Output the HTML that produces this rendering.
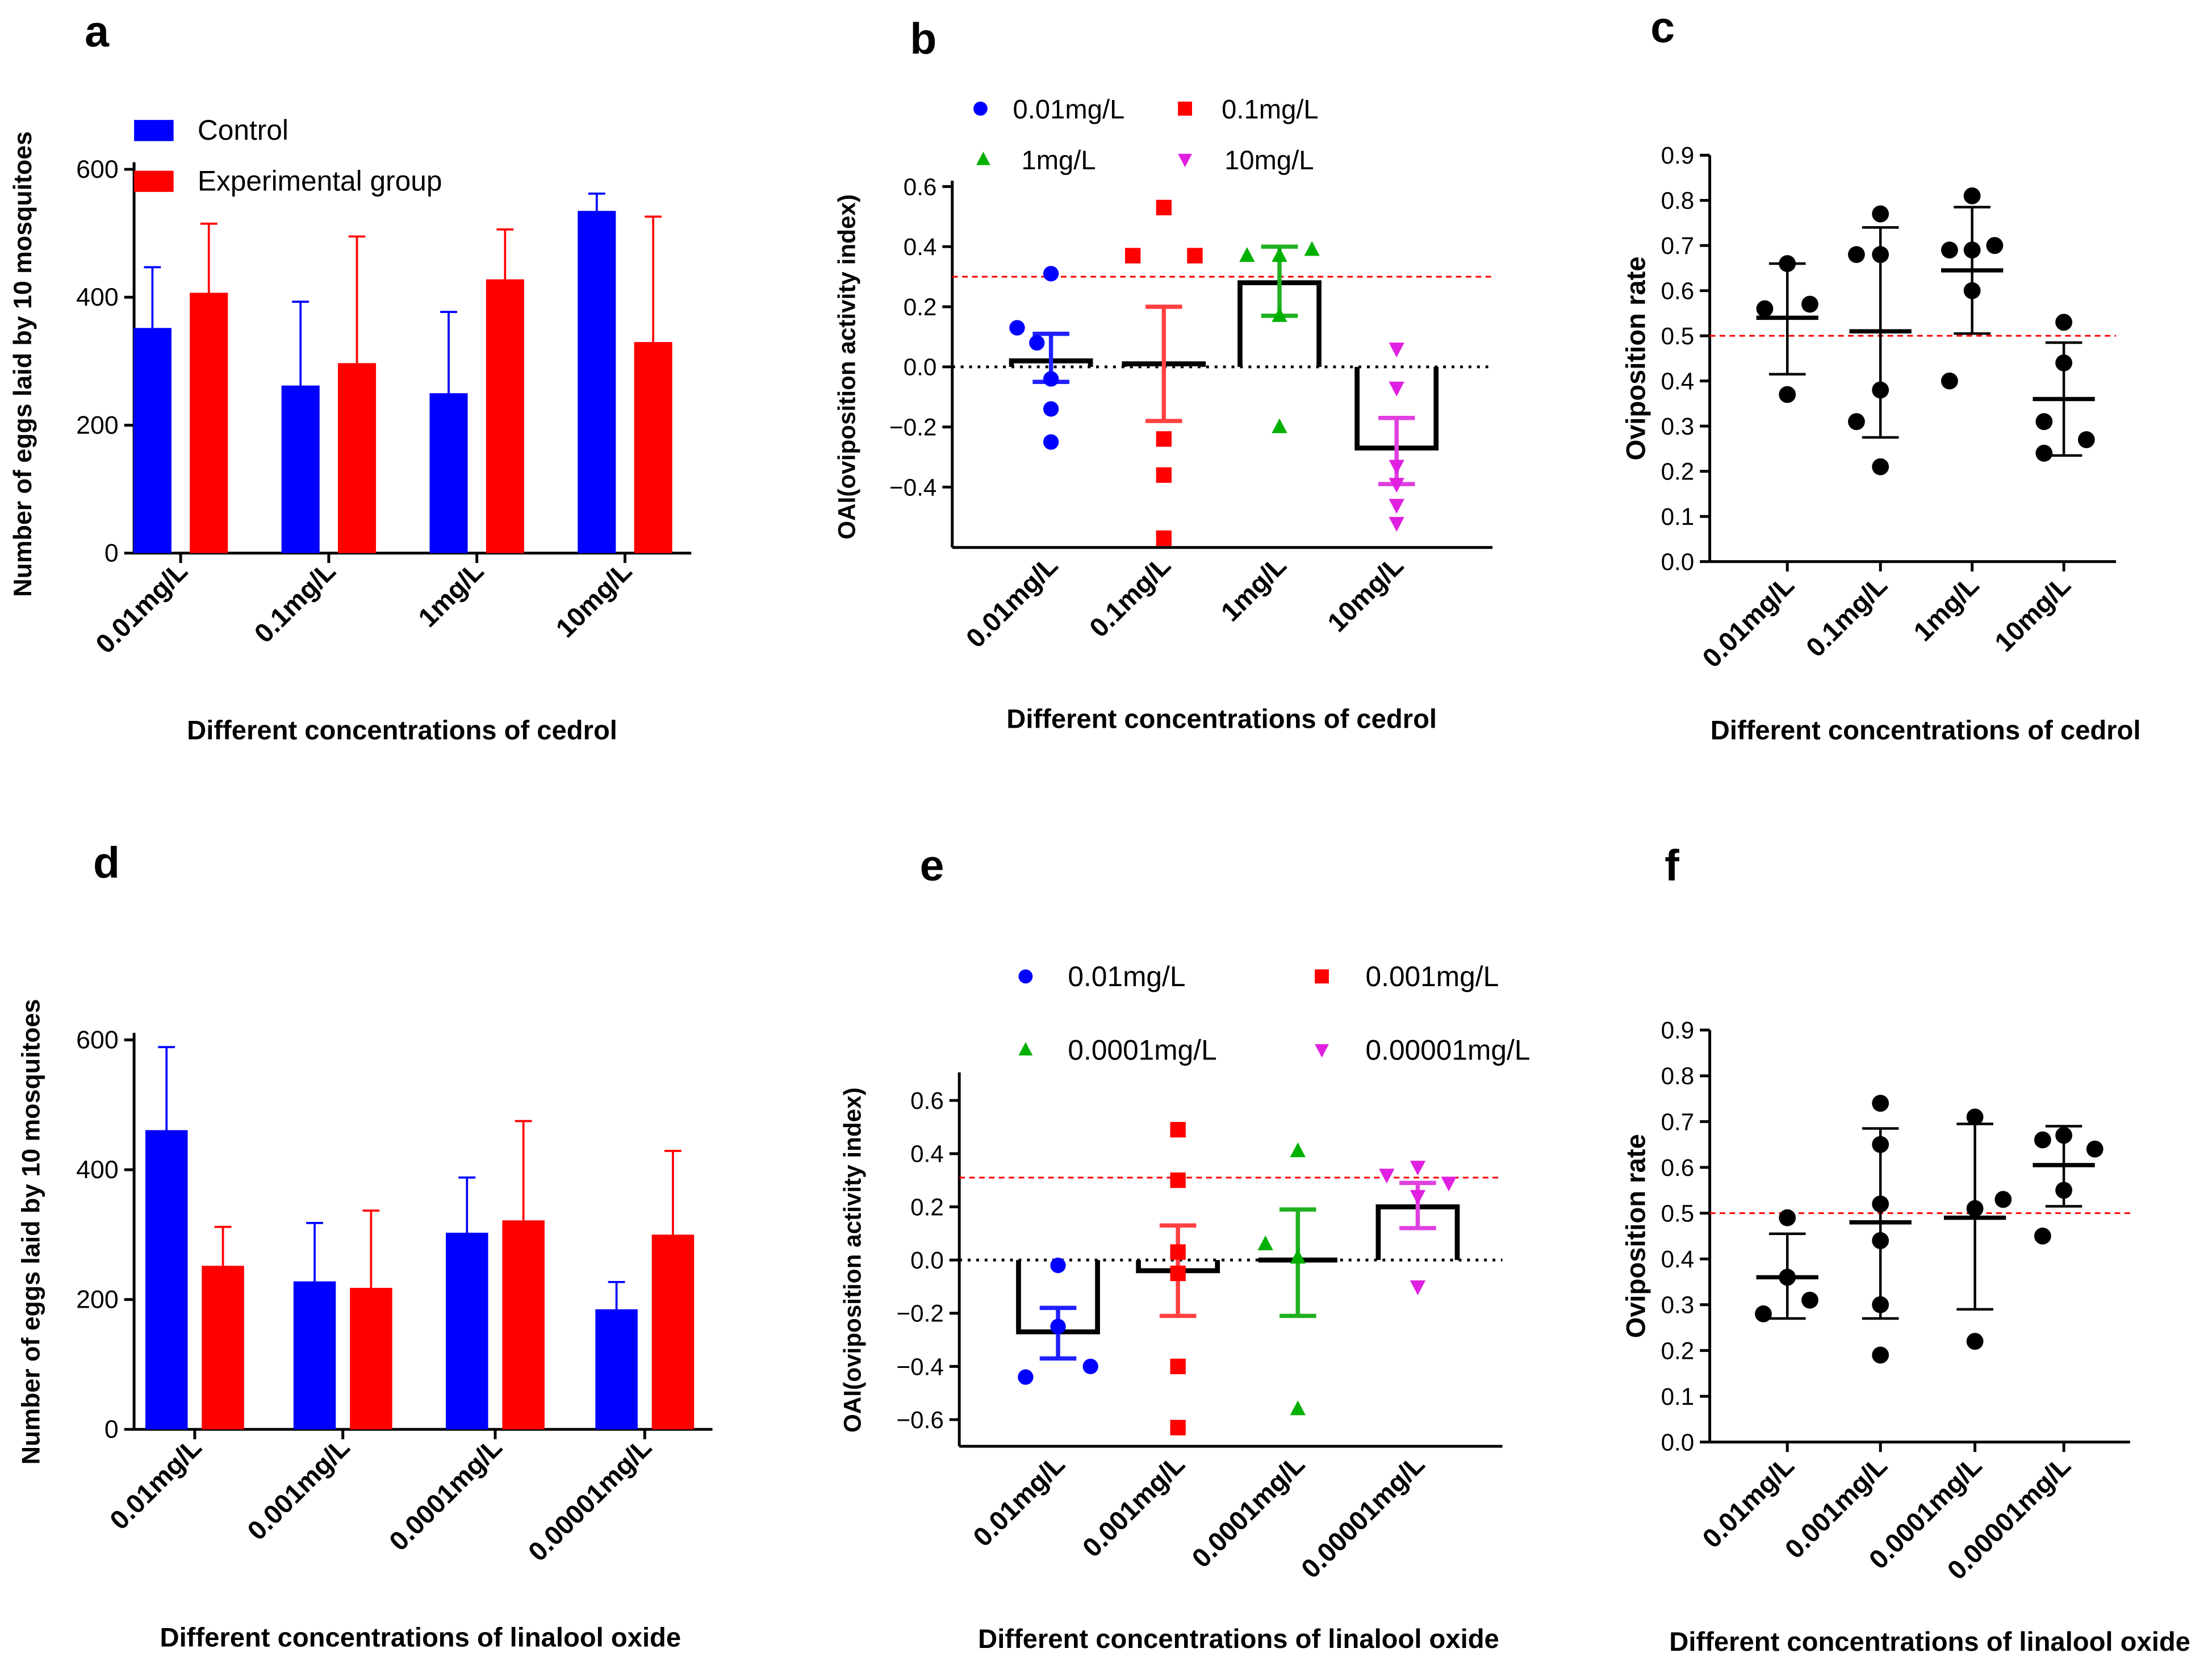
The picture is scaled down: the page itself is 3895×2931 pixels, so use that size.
<!DOCTYPE html>
<html><head><meta charset="utf-8"><style>
html,body{margin:0;padding:0;background:#fff}
svg{display:block}
text{font-family:"Liberation Sans",Arial,sans-serif;fill:#000}
</style></head><body>
<svg id="fig" xmlns="http://www.w3.org/2000/svg" width="3895" height="2931" viewBox="0 0 1568 1180">
<rect width="1568" height="1180" fill="#fff"/>
</svg>
<script>
// ---------- DATA ----------
const catsA = ["0.01mg/L","0.1mg/L","1mg/L","10mg/L"];
const ctrlA = [352,262,250,535];
const ctrlAErr = [95,131,127,27];
const expA = [407,297,428,330];
const expAErr = [108,198,78,196];

const catsD = ["0.01mg/L","0.001mg/L","0.0001mg/L","0.00001mg/L"];
const ctrlD = [461,228,303,185];
const ctrlDErr = [128,90,85,42];
const expD = [252,218,322,300];
const expDErr = [60,119,153,129];

const meanB = [0.02,0.01,0.28,-0.27];
const hiB = [0.11,0.2,0.4,-0.17];
const loB = [-0.05,-0.18,0.17,-0.39];
const ptsB = [[0.31,0.13,0.08,-0.04,-0.14,-0.25],[0.53,0.37,0.37,-0.24,-0.36,-0.57],[0.37,0.37,0.39,0.17,-0.2],[0.06,-0.07,-0.33,-0.39,-0.46,-0.52]];
const offB = [[0,-24,-10,0,0,0],[0,-22,22,0,0,0],[-23,0,23,0,0],[0,0,0,0,0,0]];

const meanE = [-0.27,-0.04,0.0,0.2];
const hiE = [-0.18,0.13,0.19,0.29];
const loE = [-0.37,-0.21,-0.21,0.12];
const ptsE = [[-0.02,-0.25,-0.44,-0.40],[0.49,0.30,0.03,-0.05,-0.40,-0.63],[0.41,0.06,0.01,-0.56],[0.32,0.35,0.29,0.24,-0.10]];
const offE = [[0,0,-23,23],[0,0,0,0,0,0],[0,-23,0,0],[-22,0,22,0,0]];

const meanC = [0.54,0.51,0.645,0.36];
const hiC = [0.66,0.74,0.785,0.485];
const loC = [0.415,0.275,0.505,0.235];
const ptsC = [[0.66,0.57,0.56,0.37],[0.77,0.68,0.68,0.38,0.31,0.21],[0.81,0.69,0.70,0.69,0.60,0.40],[0.53,0.44,0.31,0.27,0.24]];
const offC = [[0,16,-16,0],[0,-17,0,0,-17,0],[0,-16,16,0,0,-16],[0,0,-14,16,-14]];

const meanF = [0.36,0.48,0.49,0.605];
const hiF = [0.455,0.685,0.695,0.69];
const loF = [0.27,0.27,0.29,0.515];
const ptsF = [[0.49,0.36,0.31,0.28],[0.74,0.65,0.52,0.44,0.30,0.19],[0.71,0.51,0.53,0.22],[0.66,0.67,0.64,0.55,0.45]];
const offF = [[0,0,16,-17],[0,0,0,0,0,0],[0,0,20,0],[-15,0,22,0,-15]];

// ---------- HELPERS ----------
const svg = document.getElementById('fig');
const NS = 'http://www.w3.org/2000/svg';
function mk(tag, attrs, parent){
  const e = document.createElementNS(NS, tag);
  for (const k in attrs) e.setAttribute(k, attrs[k]);
  (parent||svg).appendChild(e);
  return e;
}
function txt(str, x, y, size, opts, parent){
  const o = opts||{};
  const t = mk('text', {x:x, y:y, 'font-size':size, 'text-anchor':o.anchor||'middle', 'font-weight':o.bold?'bold':'normal'}, parent);
  if (o.rot!==undefined) t.setAttribute('transform', `rotate(${o.rot} ${x} ${y})`);
  t.textContent = str;
  return t;
}
function line(x1,y1,x2,y2,col,w,parent,dash){
  const l = mk('line',{x1:x1,y1:y1,x2:x2,y2:y2,stroke:col,'stroke-width':w},parent);
  if (dash) l.setAttribute('stroke-dasharray', dash);
  return l;
}
function marker(shape, x, y, col, r, parent){
  let m;
  if (shape==='circle') m = mk('circle',{cx:x,cy:y,r:r,fill:col},parent);
  else if (shape==='square') m = mk('rect',{x:x-r,y:y-r,width:2*r,height:2*r,fill:col},parent);
  else if (shape==='up') m = mk('polygon',{points:`${x},${y-r*1.1} ${x-r},${y+r*0.8} ${x+r},${y+r*0.8}`,fill:col},parent);
  else m = mk('polygon',{points:`${x},${y+r*1.1} ${x-r},${y-r*0.8} ${x+r},${y-r*0.8}`,fill:col},parent);
  return m;
}
function yAxis(g, x, yTop, yBot, ticks, yf, fmt, fs){
  const a = line(x, yTop, x, yBot, '#000', 2, g);
  
  
  ticks.forEach(v=>{
    const y = yf(v);
    line(x-7, y, x, y, '#000', 2, g);
    const t = txt(fmt(v), x-11, y+6, fs, {anchor:'end'}, g);
    
    
  });
}
function xLabels(g, cats, xs, y, fs){
  cats.forEach((c,i)=>{
    const t = txt(c, xs[i]+6, y, fs, {anchor:'end', bold:true, rot:-45}, g);
    
    
  });
}
function panelLetter(l,x,y){
  const t = txt(l,x,y,31,{bold:true,anchor:'start'});
  
  
}

// ---------- BAR PANELS (a, d) ----------
function barPanel(id, cats, ctrl, ctrlErr, exp, expErr, cfg){
  const g = mk('g',{});
  
  
  const yf = v => cfg.y0 - v*(cfg.y0-cfg.y600)/600;
  yAxis(g, cfg.x0, cfg.y600-5, cfg.y0, [0,200,400,600], yf, v=>String(v), 18);
  const xa = line(cfg.x0, cfg.y0, cfg.xEnd, cfg.y0, '#000', 2, g);
  
  
  cats.forEach((c,i)=>{
    const cx = cfg.cx[i], xb = cx - cfg.gap/2 - cfg.bw, xr = cx + cfg.gap/2;
    line(cx, cfg.y0, cx, cfg.y0+7, '#000', 2, g);
    [[ctrl[i],ctrlErr[i],xb,'#0000ff','control'],[exp[i],expErr[i],xr,'#ff0000','experimental']].forEach(([v,e,x,col,nm])=>{
      const r = mk('rect',{x:x,y:yf(v),width:cfg.bw,height:yf(0)-yf(v),fill:col},g);
      
      
      const xm = x+cfg.bw/2;
      line(xm, yf(v), xm, yf(v+e), col, 1.5, g);
      line(xm-6, yf(v+e), xm+6, yf(v+e), col, 1.5, g);
    });
  });
  xLabels(g, cats, cfg.cx, cfg.y0+14, 19);
  const yt = txt('Number of eggs laid by 10 mosquitoes', cfg.ylx, cfg.yly, 18, {bold:true, rot:-90}, g);
  
  
  const xt = txt(cfg.xtitle, cfg.xtx, cfg.xty, 19, {bold:true}, g);
  
  
  return g;
}
barPanel('a', catsA, ctrlA, ctrlAErr, expA, expAErr, {x0:95,xEnd:490,y0:392,y600:120,cx:[128,233,338,443],bw:27,gap:13,ylx:22,yly:258,xtitle:'Different concentrations of cedrol',xtx:285,xty:524});
barPanel('d', catsD, ctrlD, ctrlDErr, expD, expDErr, {x0:95,xEnd:505,y0:1013,y600:737,cx:[138,243,351,457],bw:30,gap:10,ylx:28,yly:873,xtitle:'Different concentrations of linalool oxide',xtx:298,xty:1167});
// legend a
const lg = mk('g',{});


const l1 = mk('rect',{x:95,y:85,width:28,height:15,fill:'#0000ff'},lg);


txt('Control',140,99,20,{anchor:'start'},lg);
const l2 = mk('rect',{x:95,y:121,width:28,height:15,fill:'#ff0000'},lg);


txt('Experimental group',140,135,20,{anchor:'start'},lg);

// ---------- OAI PANELS (b, e) ----------
const cols = ['#0000ff','#ff0000','#00b000','#e020e0'];
const errCols = ['#2020ff','#ff4040','#20b020','#e040e0'];
const shapes = ['circle','square','up','down'];
function oaiPanel(id, cats, mean, hi, lo, pts, off, cfg){
  const g = mk('g',{});
  
  
  const yf = v => cfg.yz - v*cfg.k;
  yAxis(g, cfg.x0, cfg.yTop, cfg.yBot, cfg.ticks, yf, v=>(v<0?'\u2212':'')+Math.abs(v).toFixed(1), 17);
  const xa = line(cfg.x0, cfg.yBot, cfg.xEnd, cfg.yBot, '#000', 2, g);
  
  
  const z = line(cfg.x0, yf(0), cfg.xEnd, yf(0), '#000', 2, g, '2,4');
  
  
  const rl = line(cfg.x0, yf(cfg.thr), cfg.xEnd, yf(cfg.thr), '#ff0000', 1.2, g, '4,3');
  
  
  cats.forEach((c,i)=>{
    const cx = cfg.cx[i], w = 56;
    const b = mk('path',{d:`M${cx-w/2},${yf(0)} V${yf(mean[i])} H${cx+w/2} V${yf(0)}`, fill:'none', stroke:'#000','stroke-width':3.5},g);
    
    
    line(cx, yf(hi[i]), cx, yf(lo[i]), errCols[i], 3, g);
    line(cx-13, yf(hi[i]), cx+13, yf(hi[i]), errCols[i], 3, g);
    line(cx-13, yf(lo[i]), cx+13, yf(lo[i]), errCols[i], 3, g);
    pts[i].forEach((v,j)=>{
      const m = marker(shapes[i], cx+off[i][j], yf(v), cols[i], 5.5, g);
      
      
    });
  });
  xLabels(g, cats, cfg.cx, cfg.yBot+14, 19);
  const yt = txt('OAI(oviposition activity index)', cfg.ylx, cfg.yly, 17, {bold:true, rot:-90}, g);
  
  
  const xt = txt(cfg.xtitle, cfg.xtx, cfg.xty, 19, {bold:true}, g);
  
  
  const lgd = mk('g',{},g);
  
  
  cfg.leg.forEach((L,i)=>{
    const m = marker(shapes[i], L[0], L[1], cols[i], 5, lgd);
    
    
    txt(L[3], L[2], L[1]+7, cfg.lfs, {anchor:'start'}, lgd);
  });
}
oaiPanel('b', catsA, meanB, hiB, loB, ptsB, offB, {x0:675,xEnd:1058,yz:260,k:213,yTop:128,yBot:388,thr:0.3,ticks:[-0.4,-0.2,0,0.2,0.4,0.6],cx:[745,825,907,990],ylx:606,yly:260,xtitle:'Different concentrations of cedrol',xtx:866,xty:516,lfs:19,
  leg:[[695,77,718,'0.01mg/L'],[840,77,866,'0.1mg/L'],[697,113,724,'1mg/L'],[840,113,868,'10mg/L']]});
oaiPanel('e', catsD, meanE, hiE, loE, ptsE, offE, {x0:680,xEnd:1065,yz:893,k:188.5,yTop:760,yBot:1025,thr:0.31,ticks:[-0.6,-0.4,-0.2,0,0.2,0.4,0.6],cx:[750,835,920,1005],ylx:610,yly:893,xtitle:'Different concentrations of linalool oxide',xtx:878,xty:1168,lfs:20,
  leg:[[727,692,757,'0.01mg/L'],[937,692,968,'0.001mg/L'],[727,744,757,'0.0001mg/L'],[937,744,968,'0.00001mg/L']]});

// ---------- OVIPOSITION RATE PANELS (c, f) ----------
function ratePanel(id, cats, mean, hi, lo, pts, off, cfg){
  const g = mk('g',{});
  
  
  const yf = v => cfg.y0 - v*(cfg.y0-cfg.y9)/0.9;
  const ticks = [0,0.1,0.2,0.3,0.4,0.5,0.6,0.7,0.8,0.9];
  yAxis(g, cfg.x0, cfg.y9, cfg.y0, ticks, yf, v=>v.toFixed(1), 17);
  const xa = line(cfg.x0, cfg.y0, cfg.xEnd, cfg.y0, '#000', 2, g);
  
  
  cfg.cx.forEach(x=>line(x, cfg.y0, x, cfg.y0+7, '#000', 2, g));
  const rl = line(cfg.x0, yf(0.5), cfg.xEnd, yf(0.5), '#ff0000', 1.2, g, '4,3');
  
  
  cats.forEach((c,i)=>{
    const cx = cfg.cx[i];
    pts[i].forEach((v,j)=>{
      const m = marker('circle', cx+off[i][j], yf(v), '#000', 6, g);
      
      
    });
    const ml = line(cx-22, yf(mean[i]), cx+22, yf(mean[i]), '#000', 3, g);
    
    
    line(cx, yf(hi[i]), cx, yf(lo[i]), '#000', 1.8, g);
    line(cx-13, yf(hi[i]), cx+13, yf(hi[i]), '#000', 1.8, g);
    line(cx-13, yf(lo[i]), cx+13, yf(lo[i]), '#000', 1.8, g);
  });
  xLabels(g, cats, cfg.cx, cfg.y0+18, 19);
  const yt = txt('Oviposition rate', cfg.ylx, cfg.yly, 19, {bold:true, rot:-90}, g);
  
  
  const xt = txt(cfg.xtitle, cfg.xtx, cfg.xty, 19, {bold:true}, g);
  
  
}
ratePanel('c', catsA, meanC, hiC, loC, ptsC, offC, {x0:1212,xEnd:1500,y0:398,y9:110,cx:[1267,1333,1398,1463],ylx:1166,yly:254,xtitle:'Different concentrations of cedrol',xtx:1365,xty:524});
ratePanel('f', catsD, meanF, hiF, loF, ptsF, offF, {x0:1212,xEnd:1510,y0:1022,y9:730,cx:[1267,1333,1400,1463],ylx:1166,yly:876,xtitle:'Different concentrations of linalool oxide',xtx:1368,xty:1170});

panelLetter('a',60,33);
panelLetter('b',645,38);
panelLetter('c',1170,30);
panelLetter('d',66,622);
panelLetter('e',652,624);
panelLetter('f',1180,624);
</script>
</body></html>
